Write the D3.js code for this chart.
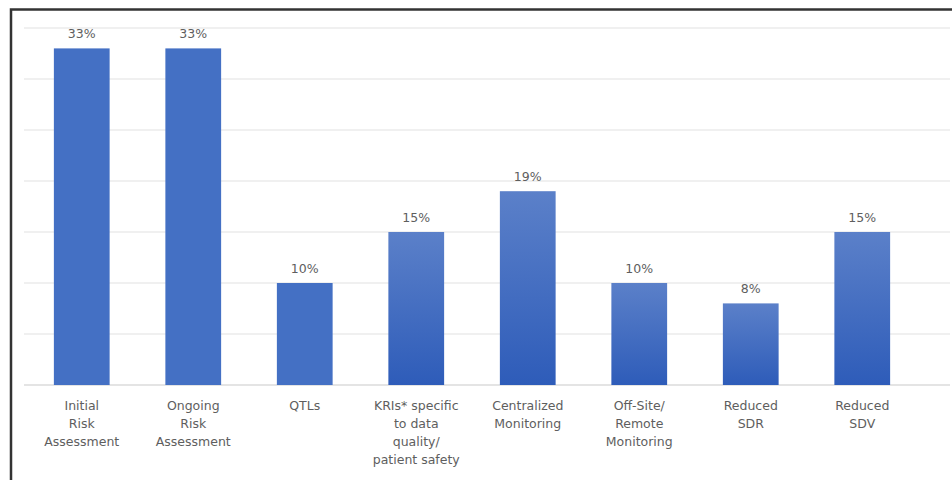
<!DOCTYPE html>
<html>
<head>
<meta charset="utf-8">
<script src="https://cdn.jsdelivr.net/npm/d3@7"></script>
<style>
  html, body { margin: 0; padding: 0; background: #fff; }
  svg { display: block; }
  text { font-family: "DejaVu Sans", sans-serif; fill: #5e5e5e; }
</style>
</head>
<body>
<div id="chart"></div>
<script>
// categories (one array of lines per bar)
const categories = [
  ["Initial", "Risk", "Assessment"],
  ["Ongoing", "Risk", "Assessment"],
  ["QTLs"],
  ["KRIs* specific", "to data", "quality/", "patient safety"],
  ["Centralized", "Monitoring"],
  ["Off-Site/", "Remote", "Monitoring"],
  ["Reduced", "SDR"],
  ["Reduced", "SDV"]
];
const values = [33, 33, 10, 15, 19, 10, 8, 15];
const gridTicks = [0, 5, 10, 15, 20, 25, 30, 35];

const w = 952, h = 480;
const svg = d3.select("#chart").append("svg")
  .attr("width", w)
  .attr("height", h);

const defs = svg.append("defs");
const grad = defs.append("linearGradient")
  .attr("id", "barGrad")
  .attr("x1", 0).attr("y1", 0).attr("x2", 0).attr("y2", 1);
grad.append("stop").attr("offset", "0%").attr("stop-color", "#5b80c9");
grad.append("stop").attr("offset", "100%").attr("stop-color", "#2e5cb9");

const x = d3.scaleBand()
  .domain(d3.range(categories.length))
  .range([26, 918])
  .paddingInner(0.5)
  .paddingOuter(0.25);

const y = d3.scaleLinear()
  .domain([0, 35])
  .range([385, 28]);

// gridlines
svg.selectAll(".grid")
  .data(gridTicks)
  .enter().append("line")
  .attr("class", "grid")
  .attr("x1", 24)
  .attr("x2", 950)
  .attr("y1", d => y(d))
  .attr("y2", d => y(d))
  .attr("stroke", (d) => d === 0 ? "#e4e4e4" : "#f0f0f0")
  .attr("stroke-width", 2);

// bars
svg.selectAll(".bar")
  .data(values)
  .enter().append("rect")
  .attr("class", "bar")
  .attr("x", (d, i) => x(i))
  .attr("width", x.bandwidth())
  .attr("y", d => y(d))
  .attr("height", d => y(0) - y(d))
  .attr("fill", (d, i) => i < 3 ? "#4470c4" : "url(#barGrad)");

// value labels
svg.selectAll(".value")
  .data(values)
  .enter().append("text")
  .attr("class", "value")
  .attr("x", (d, i) => x(i) + x.bandwidth() / 2)
  .attr("y", d => y(d) - 10)
  .attr("text-anchor", "middle")
  .style("font-size", "12.5px")
  .text(d => d + "%");

// category labels
const labels = svg.selectAll(".cat")
  .data(categories)
  .enter().append("text")
  .attr("class", "cat")
  .attr("text-anchor", "middle")
  .style("font-size", "12.5px");

labels.selectAll("tspan")
  .data((d, i) => d.map(line => ({ line, i })))
  .enter().append("tspan")
  .attr("x", d => x(d.i) + x.bandwidth() / 2)
  .attr("y", (d, j) => 410 + j * 18)
  .text(d => d.line);

// frame (top and left edges visible)
svg.append("path")
  .attr("d", "M11,480 L11,9.5 L952,9.5")
  .attr("fill", "none")
  .attr("stroke", "#333")
  .attr("stroke-width", 2.5);
</script>
</body>
</html>
